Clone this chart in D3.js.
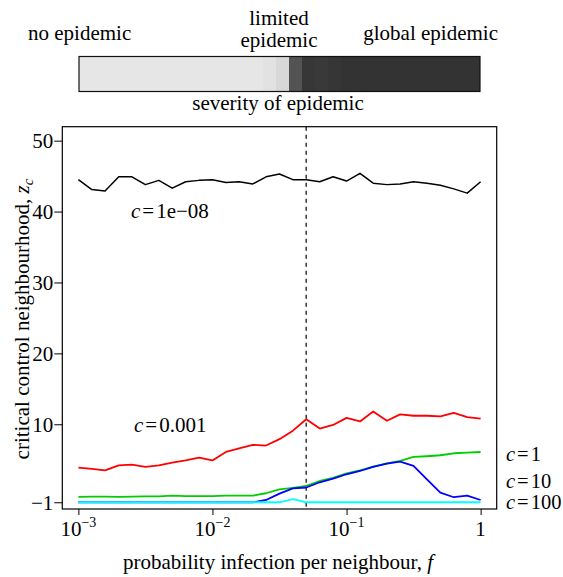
<!DOCTYPE html>
<html>
<head>
<meta charset="utf-8">
<script src="https://cdn.jsdelivr.net/npm/d3@7"></script>
<style>
  html, body { margin: 0; padding: 0; background: #fff; }
  svg, svg text { font-family: "Liberation Serif", "Times New Roman", Times, "DejaVu Serif", serif; }
  svg text { fill: #000; }
</style>
</head>
<body>
<svg id="chart" width="563" height="577" font-family="Liberation Serif, Times New Roman, Times, DejaVu Serif, serif"></svg>
<script>
// ---- data ----
const fValues = [0.001, 0.00126, 0.00158, 0.002, 0.00251, 0.00316, 0.00398, 0.00501, 0.00631, 0.00794,
  0.01, 0.0126, 0.0158, 0.02, 0.0251, 0.0316, 0.0398, 0.0501, 0.0631, 0.0794,
  0.1, 0.126, 0.158, 0.2, 0.251, 0.316, 0.398, 0.501, 0.631, 0.794, 1];

const zBlack = [44.5, 43.1, 42.9, 44.9, 44.9, 43.8, 44.4, 43.3, 44.2, 44.4, 44.5, 44.1, 44.2, 43.9, 44.9, 45.3,
  44.5, 44.5, 44.2, 44.9, 44.3, 45.4, 44.0, 43.8, 43.9, 44.2, 44.0, 43.7, 43.2, 42.6, 44.2];
const zRed = [3.9, 3.7, 3.5, 4.2, 4.3, 4.0, 4.2, 4.6, 4.9, 5.3, 4.9, 6.1, 6.6, 7.1, 7.0, 7.9,
  9.1, 10.7, 9.4, 9.9, 10.9, 10.4, 11.8, 10.5, 11.4, 11.2, 11.2, 11.1, 11.6, 11.0, 10.8];
const zGreen = [-0.25, -0.21, -0.21, -0.25, -0.21, -0.17, -0.17, -0.07, -0.12, -0.12, -0.12, -0.07, -0.07, -0.07, 0.27, 0.83,
  1.02, 1.3, 2.0, 2.43, 3.09, 3.51, 4.02, 4.5, 4.83, 5.39, 5.49, 5.63, 5.91, 6.0, 6.09];
const zBlue = [-1, -1, -1, -1, -1, -1, -1, -1, -1, -1, -1, -1, -1, -1, -0.68, 0.21,
  0.97, 1.08, 1.82, 2.33, 2.95, 3.41, 3.98, 4.44, 4.73, 4.12, 2.24, 0.35, -0.29, -0.07, -0.68];
const zCyan = [-1, -1, -1, -1, -1, -1, -1, -1, -1, -1, -1, -1, -1, -1, -1, -1,
  -0.55, -1, -1, -1, -1, -1, -1, -1, -1, -1, -1, -1, -1, -1, -1];

const seriesNames = ["1e−08", "0.001", "1", "10", "100"];
const seriesColors = ["#000000", "#ff0000", "#00cd00", "#0000ff", "#00ffff"];

const severity = [0, 0, 0, 0, 0, 0, 0, 0, 0, 0, 0, 0, 0, 0, 0.02, 0.08,
  0.82, 0.975, 0.965, 0.985, 1, 1, 1, 1, 1, 1, 1, 1, 1, 1, 1];

const yTicks = [-1, 10, 20, 30, 40, 50];
const yTickLabels = ["−1", "10", "20", "30", "40", "50"];
const xTicks = [0.001, 0.01, 0.1, 1];
const xTickBase = ["10", "10", "10", "1"];
const xTickExp = ["−3", "−2", "−1", ""];
const fThreshold = 0.05;

// ---- layout ----
const svg = d3.select("#chart");
const FONT = 21;
const SERIF = "Liberation Serif, Times New Roman, Times, DejaVu Serif, serif";
const plot = { left: 62.3, right: 496.7, top: 126.7, bottom: 509 };

const x = d3.scaleLog().domain([Math.pow(10, -3.12), Math.pow(10, 0.12)]).range([plot.left, plot.right]);
const y = d3.scaleLinear().domain([-1.95, 51.97]).range([plot.bottom, plot.top]);

// ---- severity bar ----
const bar = { left: 79, right: 480, top: 56.5, bottom: 91.5 };
const cellX = d3.scaleLinear().domain([0, severity.length]).range([83, 482.3]);
const grey = d3.scaleLinear().domain([0, 1]).range(["#e6e6e6", "#333333"]);
const lastCell = severity.length - 1;

const barG = svg.append("g").attr("shape-rendering", "crispEdges");
barG.selectAll("rect.cell").data(severity).enter().append("rect").attr("class", "cell")
  .attr("x", (d, i) => i === 0 ? bar.left : cellX(i))
  .attr("y", bar.top)
  .attr("width", (d, i) => (i === lastCell ? bar.right : cellX(i + 1)) - (i === 0 ? bar.left : cellX(i)))
  .attr("height", bar.bottom - bar.top)
  .attr("fill", d => grey(d));
svg.append("rect").attr("x", bar.left).attr("y", bar.top)
  .attr("width", bar.right - bar.left).attr("height", bar.bottom - bar.top)
  .attr("fill", "none").attr("stroke", "#111").attr("stroke-width", 1.2);

function addText(xp, yp, str, anchor) {
  return svg.append("text").attr("x", xp).attr("y", yp).attr("font-size", FONT)
    .attr("font-family", SERIF).attr("text-anchor", anchor || "start").text(str);
}
addText(28, 40, "no epidemic");
addText(279, 25, "limited", "middle");
addText(279, 47, "epidemic", "middle");
addText(498, 40, "global epidemic", "end");
addText(278, 109.5, "severity of epidemic", "middle");

// ---- axes ----
const yAxis = d3.axisLeft(y).tickValues(yTicks).tickSize(8).tickSizeOuter(0).tickPadding(1)
  .tickFormat((d, i) => yTickLabels[i]);
const gy = svg.append("g").attr("transform", `translate(${plot.left},0)`).call(yAxis)
  .attr("font-family", SERIF).attr("font-size", FONT);
gy.select(".domain").remove();
gy.selectAll("text").attr("font-size", FONT).attr("font-family", SERIF).attr("dy", "0.34em");
gy.selectAll("line").attr("stroke", "#000");

const xAxis = d3.axisBottom(x).tickValues(xTicks).tickSize(6).tickSizeOuter(0).tickFormat("");
const gx = svg.append("g").attr("transform", `translate(0,${plot.bottom})`).call(xAxis);
gx.select(".domain").remove();
gx.selectAll("line").attr("stroke", "#000");
xTicks.forEach((t, i) => {
  const tx = addText(x(t), 536, "", "middle");
  tx.append("tspan").text(xTickBase[i]);
  if (xTickExp[i]) tx.append("tspan").attr("font-size", 14).attr("dy", -9).text(xTickExp[i]);
});

// frame
svg.append("rect").attr("x", plot.left).attr("y", plot.top)
  .attr("width", plot.right - plot.left).attr("height", plot.bottom - plot.top)
  .attr("fill", "none").attr("stroke", "#000").attr("stroke-width", 1.2);

// axis titles
addText(278, 569, "", "middle").call(t => {
  t.append("tspan").text("probability infection per neighbour, ");
  t.append("tspan").attr("font-style", "italic").text("f");
});
addText(0, 0, "", "middle")
  .attr("transform", `translate(29,319) rotate(-90)`)
  .call(t => {
    t.append("tspan").text("critical control neighbourhood, ");
    t.append("tspan").attr("font-style", "italic").text("z");
    t.append("tspan").attr("font-style", "italic").attr("font-size", 15).attr("dy", 4).text("c");
  });

// ---- lines ----
const allSeries = [zBlack, zRed, zGreen, zBlue, zCyan];
const line = d3.line().x((d, i) => x(fValues[i])).y(d => y(d));
svg.append("clipPath").attr("id", "plotclip").append("rect")
  .attr("x", plot.left).attr("y", plot.top).attr("width", plot.right - plot.left).attr("height", plot.bottom - plot.top);
const lg = svg.append("g").attr("clip-path", "url(#plotclip)");
lg.append("line").attr("x1", x(fThreshold)).attr("x2", x(fThreshold)).attr("y1", plot.top).attr("y2", plot.bottom)
  .attr("stroke", "#000").attr("stroke-width", 1.2).attr("stroke-dasharray", "4,4");
allSeries.forEach((s, k) => {
  lg.append("path").datum(s).attr("d", line).attr("fill", "none")
    .attr("stroke", seriesColors[k]).attr("stroke-width", k === 0 ? 1.5 : 1.8)
    .attr("stroke-linejoin", "round");
});

// ---- series labels ----
function cLabel(xp, yp, val, size) {
  const t = addText(xp, yp, "").attr("font-size", size || FONT);
  t.append("tspan").attr("font-style", "italic").text("c");
  t.append("tspan").attr("dx", 2).text("=");
  t.append("tspan").attr("dx", 2).text(val);
}
cLabel(131, 218, seriesNames[0]);
cLabel(134, 432, seriesNames[1]);
cLabel(506, 461, seriesNames[2], 20.5);
cLabel(506, 487.5, seriesNames[3], 20.5);
cLabel(506, 509, seriesNames[4], 20.5);
</script>
</body>
</html>
